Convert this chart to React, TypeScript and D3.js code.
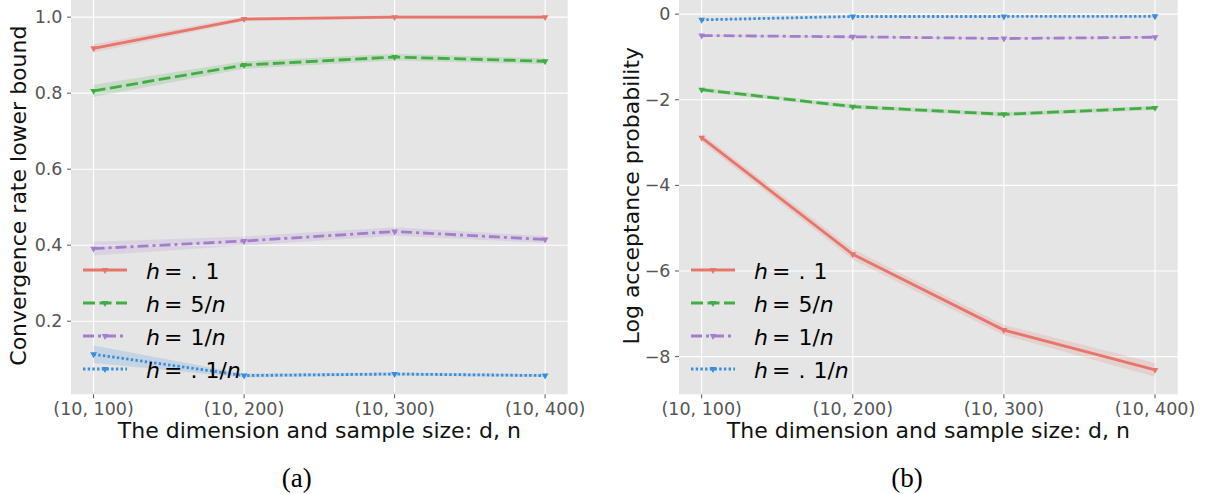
import React from 'react';
import * as d3 from 'd3';

// x categories shared by both panels
const categories = ['(10, 100)', '(10, 200)', '(10, 300)', '(10, 400)'];

// (a) convergence rate lower bound
const convRed = [0.918, 0.995, 1.0, 1.0];
const convGreen = [0.806, 0.874, 0.895, 0.884];
const convPurple = [0.391, 0.411, 0.436, 0.415];
const convBlue = [0.113, 0.057, 0.061, 0.057];
const convRedErr = [0.011, 0.006, 0.004, 0.004];
const convGreenErr = [0.016, 0.01, 0.009, 0.008];
const convPurpleErr = [0.018, 0.012, 0.011, 0.009];
const convBlueErr = [0.023, 0.005, 0.004, 0.004];
const convTicks = [0.2, 0.4, 0.6, 0.8, 1.0];

// (b) log acceptance probability
const accRed = [-2.886, -5.61, -7.38, -8.31];
const accGreen = [-1.765, -2.16, -2.34, -2.19];
const accPurple = [-0.5, -0.53, -0.57, -0.54];
const accBlue = [-0.133, -0.055, -0.055, -0.05];
const accRedErr = [0.1, 0.12, 0.12, 0.16];
const accGreenErr = [0.05, 0.05, 0.05, 0.05];
const accPurpleErr = [0.02, 0.02, 0.02, 0.02];
const accBlueErr = [0.012, 0.01, 0.01, 0.01];
const accTicks = [0, -2, -4, -6, -8];

// legend: [numerator part, italic n?]
const legendLabels: [string, string, string][] = [
  ['.', '1', ''],
  ['5/', '', 'n'],
  ['1/', '', 'n'],
  ['.', '1/', 'n'],
];

const styles = [
  { color: '#E6766B', dash: '' },
  { color: '#42AD42', dash: '12,4.5' },
  { color: '#A47ECC', dash: '11,4,3,4' },
  { color: '#3A8DDA', dash: '2.4,2.3' },
];

const FONT = 'DejaVu Sans';
const tri = d3.symbol(d3.symbolTriangle, 20)() as string;

type PanelProps = {
  x0: number;
  x1: number;
  yDomain: [number, number];
  series: number[][];
  errs: number[][];
  ticks: number[];
  fmt: (v: number) => string;
  ylabel: string;
  ylabelX: number;
  caption: string;
  captionX: number;
};

const top = -3;
const bottom = 394.3;

const Panel: React.FC<PanelProps> = ({ x0, x1, yDomain, series, errs, ticks, fmt, ylabel, ylabelX, caption, captionX }) => {
  const x = d3.scalePoint<string>().domain(categories).range([x0, x1]).padding(0.15);
  const y = d3.scaleLinear().domain(yDomain).range([bottom, top]);
  const line = d3.line<number>().x((_, i) => x(categories[i]) as number).y(d => y(d));
  const cx = (x0 + x1) / 2;
  const cy = (top + bottom) / 2;

  return (
    <g>
      <rect x={x0} y={top} width={x1 - x0} height={bottom - top} fill="#E5E5E5" />
      {ticks.map(t => (
        <line key={'gy' + t} x1={x0} x2={x1} y1={y(t)} y2={y(t)} stroke="#fff" strokeWidth={1.1} />
      ))}
      {categories.map(c => (
        <line key={'gx' + c} x1={x(c)} x2={x(c)} y1={top} y2={bottom} stroke="#fff" strokeWidth={1.1} />
      ))}
      {series.map((s, k) => {
        const area = d3.area<number>()
          .x((_, i) => x(categories[i]) as number)
          .y0((d, i) => y(d - errs[k][i]))
          .y1((d, i) => y(d + errs[k][i]));
        return <path key={'b' + k} d={area(s) as string} fill={styles[k].color} opacity={0.18} />;
      })}
      {series.map((s, k) => (
        <g key={'s' + k}>
          <path d={line(s) as string} fill="none" stroke={styles[k].color} strokeWidth={2.8}
            strokeDasharray={styles[k].dash} />
          {s.map((v, i) => (
            <path key={i} d={tri} fill={styles[k].color}
              transform={`translate(${x(categories[i])},${y(v)}) rotate(180)`} />
          ))}
        </g>
      ))}
      {/* y ticks */}
      {ticks.map(t => (
        <g key={'ty' + t}>
          <line x1={x0 - 4} x2={x0} y1={y(t)} y2={y(t)} stroke="#555" strokeWidth={1} />
          <text x={x0 - 8.5} y={y(t) + 6} textAnchor="end" fontFamily={FONT} fontSize={17.5} fill="#555">{fmt(t)}</text>
        </g>
      ))}
      {/* x ticks */}
      {categories.map(c => (
        <g key={'tx' + c}>
          <line x1={x(c)} x2={x(c)} y1={bottom} y2={bottom + 4} stroke="#555" strokeWidth={1} />
          <text x={x(c)} y={415} textAnchor="middle" fontFamily={FONT} fontSize={17.5} fill="#555">{c}</text>
        </g>
      ))}
      <text x={cx} y={438} textAnchor="middle" fontFamily={FONT} fontSize={22} fill="#111">
        The dimension and sample size: d, n
      </text>
      <text transform={`translate(${ylabelX},${cy}) rotate(-90)`} textAnchor="middle" fontFamily={FONT}
        fontSize={22} fill="#111">{ylabel}</text>
      {/* legend */}
      {legendLabels.map((lab, k) => {
        const ly = 270 + k * 33;
        return (
          <g key={'l' + k}>
            <line x1={x0 + 12} x2={x0 + 56} y1={ly} y2={ly} stroke={styles[k].color} strokeWidth={2.8}
              strokeDasharray={styles[k].dash} />
            <path d={tri} fill={styles[k].color} transform={`translate(${x0 + 34},${ly}) rotate(180)`} />
            <text x={x0 + 75} y={ly + 8.5} fontFamily={FONT} fontSize={22} fill="#000">
              <tspan fontStyle="italic">h</tspan>
              <tspan dx={4}>=</tspan>
              <tspan dx={8}>{lab[0]}</tspan>
              {lab[1] && <tspan dx={lab[0] === '.' ? 8 : 0}>{lab[1]}</tspan>}
              {lab[2] && <tspan fontStyle="italic">{lab[2]}</tspan>}
            </text>
          </g>
        );
      })}
      <text x={captionX} y={486.5} textAnchor="middle" fontFamily="Liberation Serif" fontSize={27} fill="#000">
        {caption}
      </text>
    </g>
  );
};

const App: React.FC = () => {
  return (
    <svg width={1206} height={494} style={{ position: 'absolute', left: 0, top: 0, background: '#fff' }}>
      <Panel
        x0={71}
        x1={567.7}
        yDomain={[0.0077, 1.053]}
        series={[convRed, convGreen, convPurple, convBlue]}
        errs={[convRedErr, convGreenErr, convPurpleErr, convBlueErr]}
        ticks={convTicks}
        fmt={d3.format('.1f')}
        ylabel="Convergence rate lower bound"
        ylabelX={26}
        caption="(a)"
        captionX={296.7}
      />
      <Panel
        x0={679}
        x1={1177.7}
        yDomain={[-8.88, 0.4]}
        series={[accRed, accGreen, accPurple, accBlue]}
        errs={[accRedErr, accGreenErr, accPurpleErr, accBlueErr]}
        ticks={accTicks}
        fmt={v => (v < 0 ? '\u2212' + Math.abs(v) : String(v))}
        ylabel="Log acceptance probability"
        ylabelX={639}
        caption="(b)"
        captionX={907}
      />
    </svg>
  );
};

export default App;
